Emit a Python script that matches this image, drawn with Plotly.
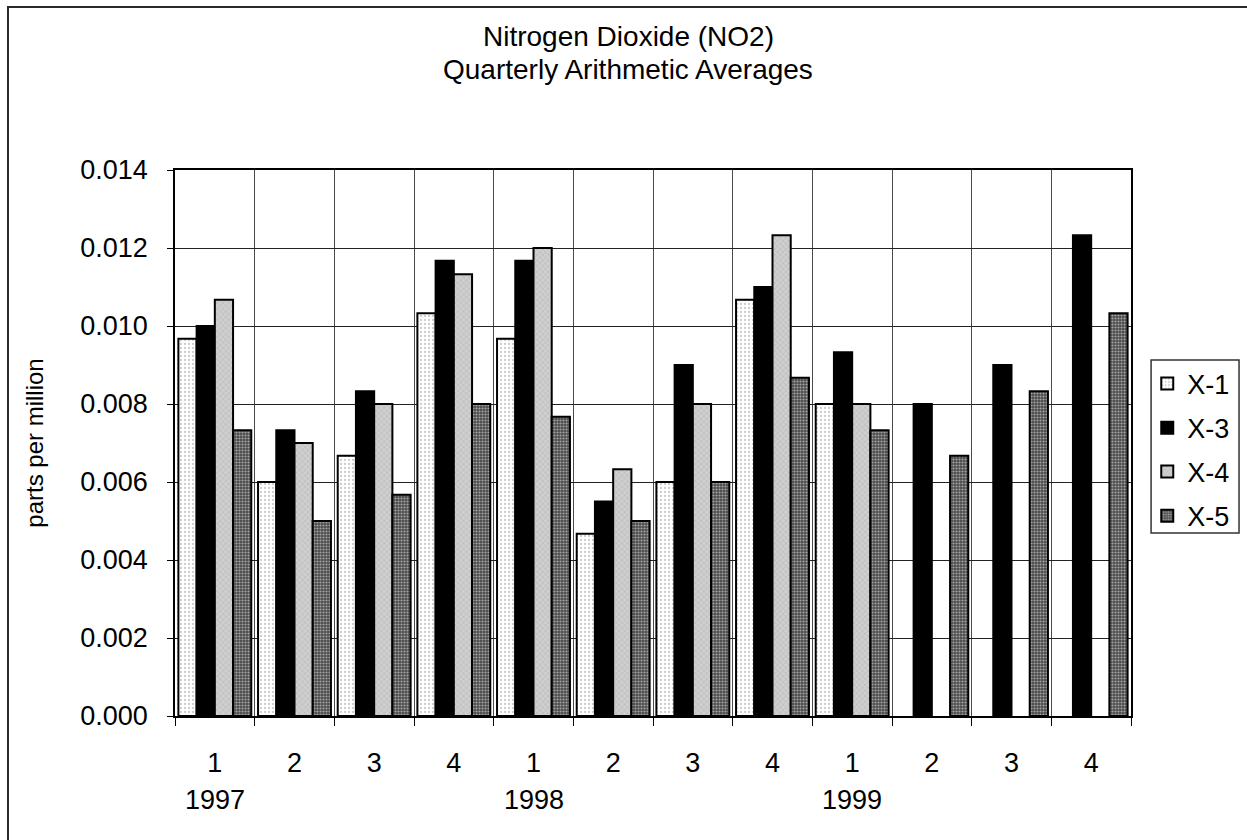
import plotly.graph_objects as go

# Quarterly arithmetic averages of NO2 (ppm) per monitoring site
periods = ["1997 Q1", "1997 Q2", "1997 Q3", "1997 Q4",
           "1998 Q1", "1998 Q2", "1998 Q3", "1998 Q4",
           "1999 Q1", "1999 Q2", "1999 Q3", "1999 Q4"]
quarter_labels = ["1", "2", "3", "4", "1", "2", "3", "4", "1", "2", "3", "4"]
year_labels = {"1997 Q1": "1997", "1998 Q1": "1998", "1999 Q1": "1999"}

x1 = [0.00967, 0.0060, 0.00667, 0.01033, 0.00967, 0.00467, 0.0060, 0.01067, 0.0080, None, None, None]
x3 = [0.0100, 0.00733, 0.00833, 0.01167, 0.01167, 0.0055, 0.0090, 0.0110, 0.00933, 0.0080, 0.0090, 0.01233]
x4 = [0.01067, 0.0070, 0.0080, 0.01133, 0.0120, 0.00633, 0.0080, 0.01233, 0.0080, None, None, None]
x5 = [0.00733, 0.0050, 0.00567, 0.0080, 0.00767, 0.0050, 0.0060, 0.00867, 0.00733, 0.00667, 0.00833, 0.01033]

FONT = "Liberation Sans, Arial, sans-serif"
FS = 27

series = [
    ("X-1", x1, dict(shape=".", fgcolor="#9a9a9a", bgcolor="white", size=4, solidity=0.25), "legend"),
    ("X-3", x3, dict(shape="", fgcolor="black", bgcolor="black"), "legend2"),
    ("X-4", x4, dict(shape="x", fgcolor="#8c8c8c", bgcolor="#cfcfcf", size=4, solidity=0.2), "legend3"),
    ("X-5", x5, dict(shape=".", fgcolor="white", bgcolor="#4a4a4a", size=3, solidity=0.4), "legend4"),
]

fig = go.Figure()
for name, vals, pat, lg in series:
    color = "black" if name == "X-3" else pat["bgcolor"]
    marker = dict(color=color, line=dict(color="black", width=2))
    if pat["shape"]:
        marker["pattern"] = pat
    fig.add_trace(go.Bar(name=name, x=periods, y=vals, marker=marker, legend=lg, showlegend=True))

# one legend per entry so the rows can be spaced out, framed by a single box
legend_rows = [0.608, 0.527, 0.447, 0.366]
legend_common = dict(x=1.017, xanchor="left", yanchor="middle", bgcolor="rgba(0,0,0,0)",
                     borderwidth=0, font=dict(family=FONT, size=FS, color="black"))

text_font = dict(family=FONT, size=FS, color="black")
title_font = dict(family=FONT, size=28, color="black")
annotations = [
    dict(x=0.4739, y=1.2454, xref="paper", yref="paper", text="Nitrogen Dioxide (NO2)",
         showarrow=False, xanchor="center", yanchor="middle", font=title_font),
    dict(x=0.4739, y=1.1832, xref="paper", yref="paper", text="Quarterly Arithmetic Averages",
         showarrow=False, xanchor="center", yanchor="middle", font=title_font),
]
for p, yr in year_labels.items():
    annotations.append(dict(x=p, y=-0.154, xref="x", yref="paper", text=yr, showarrow=False,
                            yanchor="middle", font=text_font))

fig.update_layout(
    width=1247, height=840,
    margin=dict(l=175, r=116, t=170, b=124),
    paper_bgcolor="white", plot_bgcolor="white",
    showlegend=True,
    barmode="group", bargap=0.085, bargroupgap=0,
    font=text_font,
    legend=dict(y=legend_rows[0], **legend_common),
    legend2=dict(y=legend_rows[1], **legend_common),
    legend3=dict(y=legend_rows[2], **legend_common),
    legend4=dict(y=legend_rows[3], **legend_common),
    annotations=annotations,
    shapes=[
        # legend frame
        dict(type="rect", xref="paper", yref="paper", x0=1.021, x1=1.113, y0=0.335, y1=0.652,
             line=dict(color="#333", width=1.5), fillcolor="rgba(0,0,0,0)"),
        # outer chart frame
        dict(type="rect", xref="paper", yref="paper", x0=-0.1747, x1=1.5, y0=-0.5, y1=1.2985,
             line=dict(color="#2a2a2a", width=2), fillcolor="rgba(0,0,0,0)", layer="below"),
    ],
)

fig.update_xaxes(
    type="category", categoryorder="array", categoryarray=periods,
    tickmode="array", tickvals=periods, ticktext=quarter_labels,
    tickson="boundaries", ticks="outside", ticklen=8, tickcolor="black",
    showgrid=True, gridcolor="#4a4a4a", gridwidth=1,
    showline=True, linecolor="black", linewidth=1.5, mirror=True,
    ticklabelstandoff=22, range=[-0.5, 11.5],
    tickfont=text_font,
)
fig.update_yaxes(
    range=[0, 0.014], dtick=0.002, tick0=0, tickformat=".3f",
    ticks="outside", ticklen=6, tickcolor="black",
    showgrid=True, gridcolor="#222", gridwidth=1,
    showline=True, linecolor="black", linewidth=1.5, mirror=True,
    zeroline=False, ticklabelstandoff=14,
    title=dict(text="parts per million", standoff=30,
               font=dict(family=FONT, size=24, color="black")),
    tickfont=text_font,
)

fig.write_html("out.html")
